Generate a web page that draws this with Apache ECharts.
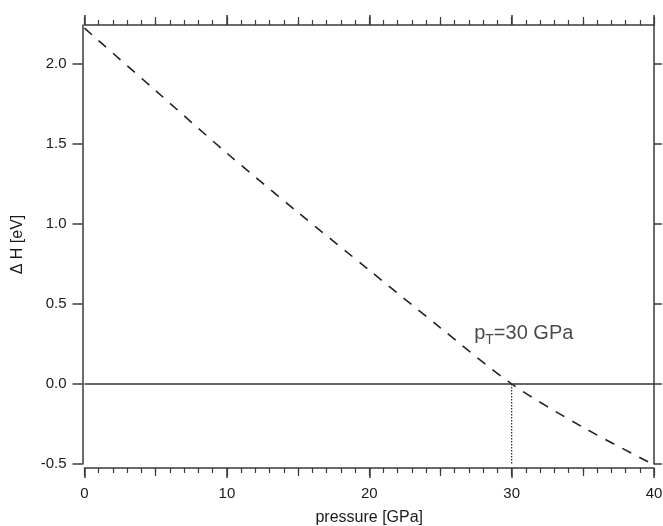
<!DOCTYPE html>
<html>
<head>
<meta charset="utf-8">
<script src="https://cdn.jsdelivr.net/npm/echarts@6/dist/echarts.min.js"></script>
<style>
html,body{margin:0;padding:0;background:#fff;}
#chart{width:663px;height:526px;}
</style>
</head>
<body>
<div id="chart"></div>
<script>
// Data
const pressure = [0, 5, 10, 15, 20, 25, 30, 35, 40];
const deltaH = [2.22, 1.83, 1.44, 1.07, 0.71, 0.35, 0.0, -0.27, -0.505];
const transitionP = 30;
const yTickValues = [-0.5, 0.0, 0.5, 1.0, 1.5, 2.0];
const annotationPos = [27.37, 0.31];

const AX = '#3a3a3a';
const TXT = '#1a1a1a';
const FONT = '"Liberation Sans", Arial, sans-serif';

const chart = echarts.init(document.getElementById('chart'));

const lineData = pressure.map((p, i) => [p, deltaH[i]]);

const baseX = {
  type: 'value', min: 0, max: 40, interval: 10,
  splitLine: { show: false },
  axisLine: { show: true, onZero: false, lineStyle: { color: AX, width: 1.5 } },
  axisTick: { show: true, inside: false, length: 10, lineStyle: { color: AX, width: 1.5 } },
  minorTick: { show: true, splitNumber: 10, length: 5, lineStyle: { color: AX, width: 1.2 } },
  axisLabel: { show: false }
};
const medX = {
  type: 'value', min: 0, max: 40, interval: 5,
  splitLine: { show: false },
  axisLine: { show: false, onZero: false },
  axisTick: { show: true, inside: false, length: 8, lineStyle: { color: AX, width: 1.2 } },
  axisLabel: { show: false }
};

chart.setOption({
  animation: false,
  backgroundColor: '#fff',
  textStyle: { fontFamily: FONT },
  grid: { left: 84.5, right: 9, top: 25, bottom: 62, containLabel: false, outerBoundsMode: 'none' },
  xAxis: [
    Object.assign({}, baseX, {
      position: 'bottom', offset: 4,
      axisLabel: { show: true, fontSize: 15, color: TXT, margin: 18, fontFamily: FONT },
      name: 'pressure [GPa]', nameLocation: 'middle', nameGap: 42,
      nameTextStyle: { fontSize: 16, color: TXT, fontFamily: FONT }
    }),
    Object.assign({}, medX, { position: 'bottom', offset: 4 }),
    Object.assign({}, baseX, { position: 'top', offset: 0 }),
    Object.assign({}, medX, { position: 'top', offset: 0 })
  ],
  yAxis: [
    {
      type: 'value', min: -0.5, max: 2.24, position: 'left', offset: 2,
      splitLine: { show: false },
      axisLine: { show: true, onZero: false, lineStyle: { color: AX, width: 1.5 } },
      axisTick: { show: true, inside: false, length: 10, customValues: yTickValues, lineStyle: { color: AX, width: 1.5 } },
      axisLabel: { show: true, customValues: yTickValues, fontSize: 15, color: TXT, margin: 16, fontFamily: FONT,
        formatter: v => v.toFixed(1) },
      name: 'Δ H [eV]', nameLocation: 'middle', nameGap: 57, nameRotate: 90,
      nameTextStyle: { fontSize: 16, color: TXT, fontFamily: FONT }
    },
    {
      type: 'value', min: -0.5, max: 2.24, position: 'right', offset: 0,
      splitLine: { show: false },
      axisLine: { show: true, onZero: false, lineStyle: { color: AX, width: 1.5 } },
      axisTick: { show: true, inside: false, length: 8, customValues: yTickValues, lineStyle: { color: AX, width: 1.5 } },
      axisLabel: { show: false }
    }
  ],
  series: [
    {
      type: 'line', xAxisIndex: 0, yAxisIndex: 0,
      data: lineData, smooth: 0.3, showSymbol: false, symbol: 'none',
      lineStyle: { color: '#222', width: 1.6, type: [10, 9] },
      markLine: {
        silent: true, symbol: 'none', label: { show: false },
        lineStyle: { color: '#333', width: 1.5, type: 'solid' },
        data: [{ yAxis: 0 }]
      }
    },
    {
      type: 'line', xAxisIndex: 0, yAxisIndex: 0,
      data: [[transitionP, 0], [transitionP, -0.5]],
      showSymbol: false, symbol: 'none',
      lineStyle: { color: '#333', width: 1.3, type: [1.5, 1.5] }
    },
    {
      type: 'scatter', xAxisIndex: 0, yAxisIndex: 0,
      data: [annotationPos], symbolSize: 0, silent: true,
      label: {
        show: true, position: 'right', distance: 0,
        formatter: '{p|p}{s|T}{n|=30 GPa}',
        rich: {
          p: { fontSize: 20, color: TXT, fontFamily: FONT, lineHeight: 22, verticalAlign: 'top' },
          s: { fontSize: 14, color: TXT, fontFamily: FONT, lineHeight: 14, padding: [10, 0, 0, 0], verticalAlign: 'top' },
          n: { fontSize: 20, color: TXT, fontFamily: FONT, lineHeight: 22, verticalAlign: 'top' }
        }
      }
    }
  ]
});
</script>
</body>
</html>
